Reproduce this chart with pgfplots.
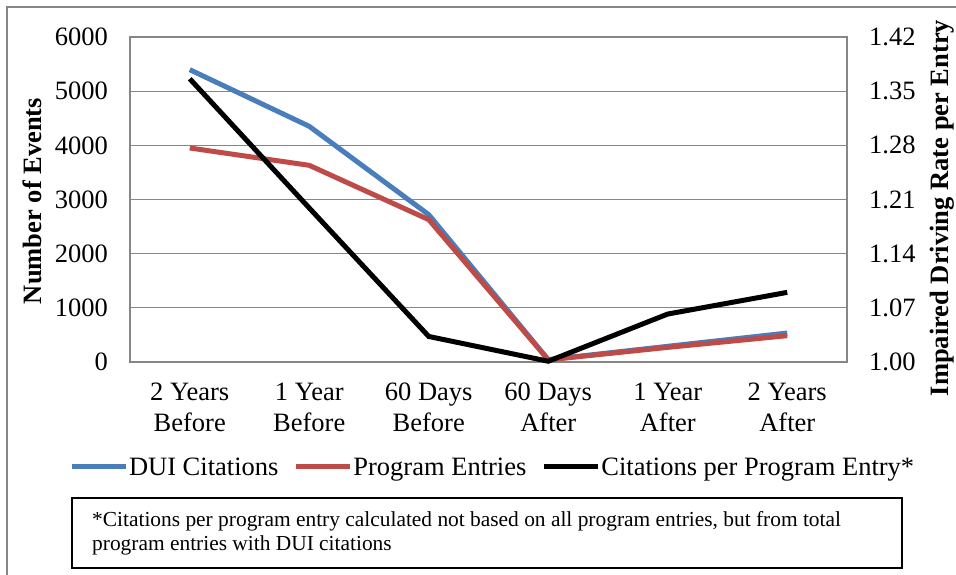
\documentclass[border=0pt]{standalone}
\usepackage{fontspec}
\setmainfont{Liberation Serif}
\usepackage{pgfplots}
\pgfplotsset{compat=1.18}
\definecolor{duiblue}{HTML}{4A7EBB}
\definecolor{progred}{HTML}{BE4B48}
\definecolor{gridgray}{HTML}{868686}
\newcommand{\bigtxt}{\fontsize{26.5bp}{30.5bp}\selectfont}
\begin{document}
\begin{tikzpicture}
\useasboundingbox (0,0) rectangle (956bp,-575bp);
\draw[gridgray, line width=1.5bp] (7bp,-575bp) -- (7bp,-7bp) -- (956bp,-7bp);
\begin{axis}[
  scale only axis, width=717bp, height=325bp,
  at={(130bp,-37bp)}, anchor=north west,
  xmin=-0.5, xmax=5.5, ymin=0, ymax=6000,
  ytick={0,1000,...,6000},
  xtick={0,1,2,3,4,5},
  xticklabels={{2 Years\\Before},{1 Year\\Before},{60 Days\\Before},{60 Days\\After},{1 Year\\After},{2 Years\\After}},
  xticklabel style={align=center, font=\bigtxt, inner sep=0pt, yshift=-21bp},
  yticklabel style={font=\bigtxt, inner sep=0pt, xshift=-22bp},
  /pgf/number format/assume math mode=true,
  /pgf/number format/1000 sep={},
  scaled y ticks=false,
  major tick length=0pt,
  ymajorgrids, grid style={gridgray, line width=1.2bp},
  axis line style={gridgray, line width=1.2bp},
  clip=false,
]
\addplot[duiblue, line width=5bp] coordinates {(0,5397) (1,4351) (2,2720) (3,43) (4,290) (5,535)};
\addplot[progred, line width=5bp] coordinates {(0,3951) (1,3631) (2,2628) (3,40) (4,270) (5,486)};
\end{axis}
\begin{axis}[
  scale only axis, width=717bp, height=325bp,
  at={(130bp,-37bp)}, anchor=north west,
  xmin=-0.5, xmax=5.5, ymin=1.00, ymax=1.42,
  axis y line*=right, axis x line=none,
  ytick={1.00,1.07,1.14,1.21,1.28,1.35,1.42},
  yticklabel style={font=\bigtxt, inner sep=0pt, xshift=22bp, anchor=west,
    /pgf/number format/fixed, /pgf/number format/fixed zerofill, /pgf/number format/precision=2},
  /pgf/number format/assume math mode=true,
  major tick length=0pt,
  axis line style={gridgray, line width=1.2bp},
  clip=false,
  legend columns=3,
  legend style={at={(0.505,-0.323)}, anchor=center, draw=none, font=\bigtxt,
    /tikz/every even column/.append style={column sep=14bp},
    nodes={inner sep=1bp}},
  legend image code/.code={\draw[#1] (0bp,0bp) -- (54bp,0bp);},
]
\addlegendimage{duiblue, line width=5bp}
\addlegendentry{DUI Citations}
\addlegendimage{progred, line width=5bp}
\addlegendentry{Program Entries}
\addplot[black, line width=5bp] coordinates {(0,1.366) (1,1.199) (2,1.033) (3,1.001) (4,1.062) (5,1.090)};
\addlegendentry{Citations per Program Entry*}
\end{axis}
\node[rotate=90, font=\bigtxt\bfseries] at (32bp,-201bp) {Number of Events};
\node[rotate=90, font=\bigtxt\bfseries] at (942bp,-208bp) {Impaired Driving Rate per Entry};
\draw[black, line width=1.5bp] (72bp,-498bp) rectangle (902bp,-568bp);
\node[anchor=north west, align=left, inner sep=0pt, font=\fontsize{21.4bp}{24.5bp}\selectfont] at (92bp,-511bp)
  {*Citations per program entry calculated not based on all program entries, but from total\\program entries with DUI citations};
\end{tikzpicture}
\end{document}
